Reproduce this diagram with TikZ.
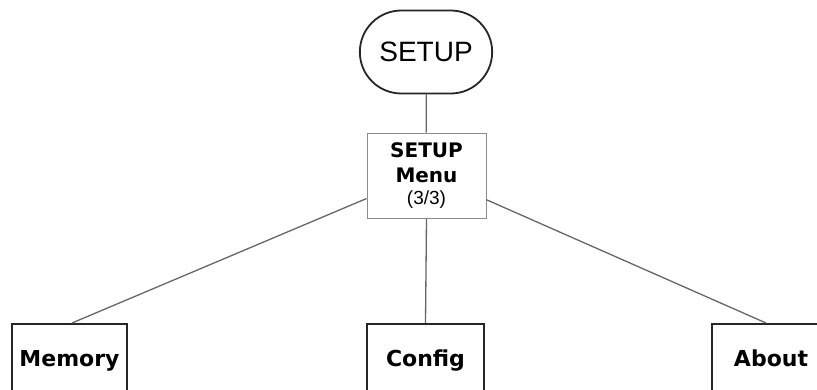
\documentclass[tikz,border=0pt]{standalone}
\usepackage{fontspec}
\setmainfont{Liberation Sans}
\newfontfamily\boxfont{DejaVu Sans}
\usetikzlibrary{shapes.misc}
\begin{document}
\begin{tikzpicture}[x=1pt,y=-1pt,
    start/.style={rounded rectangle, draw=black!85, line width=1.8pt,
      minimum width=139pt, minimum height=83pt,
      font=\fontsize{28}{30}\selectfont},
    menu/.style={draw=black!45, line width=1pt, minimum width=119pt,
      minimum height=85pt, align=center, inner sep=0pt,
      font=\boxfont\bfseries\fontsize{20}{25}\selectfont},
    item/.style={draw=black!85, line width=2pt, anchor=north,
      text height=34pt, text depth=60pt, inner ysep=8pt,
      font=\boxfont\bfseries\fontsize{22}{26}\selectfont},
    link/.style={draw=black!60, line width=1.3pt}]
  \clip (0,0) rectangle (817,389);

  % top of the tree
  \node[start] (setup) at (426,52) {SETUP};
  \node[menu] (menu) at (426.5,175.5)
    {SETUP\\Menu\\[-3pt]{\rmfamily\mdseries\fontsize{19}{22}\selectfont (3/3)}};

  % menu entries
  \node[item, minimum width=115pt] (memory) at (69.5,323) {Memory};
  \node[item, minimum width=117pt] (config) at (425.5,323) {Config};
  \node[item, minimum width=118pt] (about) at (771,323) {About};

  \draw[link] (setup) -- (menu);
  \draw[link] (menu.201.5) -- ([xshift=2.5pt]memory.north);
  \draw[link] (menu.south) -- (config.north);
  \draw[link] (menu.-22) -- ([xshift=-5pt]about.north);
\end{tikzpicture}
\end{document}
